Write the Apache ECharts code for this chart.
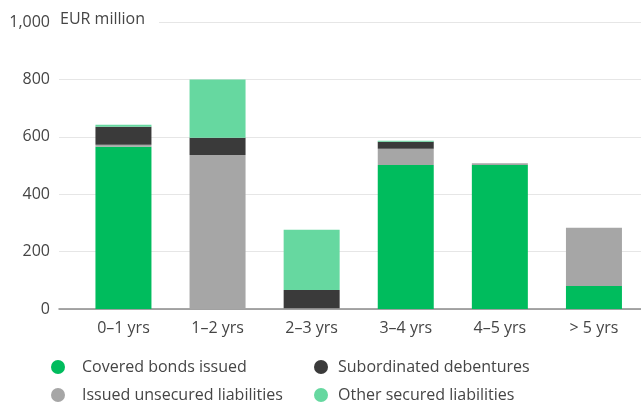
<!DOCTYPE html>
<html><head><meta charset="utf-8">
<script src="https://cdn.jsdelivr.net/npm/echarts@6/dist/echarts.min.js"></script>
<style>html,body{margin:0;padding:0;background:#fff}#c{width:641px;height:403px}</style>
</head><body><div id="c"></div>
<script>
const categories = ['0\u20131 yrs', '1\u20132 yrs', '2\u20133 yrs', '3\u20134 yrs', '4\u20135 yrs', '> 5 yrs'];
const covered = [565, 0, 0, 502, 502, 80];
const unsecured = [7, 537, 3, 56, 6, 203];
const subordinated = [63, 60, 63, 25, 0, 0];
const otherSecured = [7, 203, 210, 3, 0, 0];
const yTicks = [0, 200, 400, 600, 800, 1000];
const unitLabel = 'EUR million';

const FONT = 'Open Sans';
const FS = 16;
const TXT = '#454545';
const chart = echarts.init(document.getElementById('c'));
const fmt = v => v >= 1000 ? v.toLocaleString('en-US') : String(v);
const mk = (name, data, color) => ({
  name, type: 'bar', stack: 's', data, xAxisIndex: 1, yAxisIndex: 1,
  barWidth: 56, itemStyle: { color }, emphasis: { disabled: true }
});
const lg = (name, left, top, gap) => ({
  left, top, itemWidth: 14, itemHeight: 14, icon: 'circle', padding: 0,
  data: [name],
  textStyle: { color: TXT, fontSize: FS, fontFamily: FONT, padding: [0, 0, 0, gap], lineHeight: 18 },
  selectedMode: false
});
chart.setOption({
  animation: false,
  textStyle: { fontFamily: FONT },
  grid: [
    { left: 59, right: 0, top: 22, bottom: 94 },
    { left: 76.4, right: -6.6, top: 22, bottom: 94 }
  ],
  xAxis: [
    { gridIndex: 0, type: 'value', min: 0, max: 1, axisLabel: { show: false }, axisTick: { show: false }, splitLine: { show: false },
      axisLine: { show: true, lineStyle: { color: '#8a8a8a', width: 1.5 } } },
    { gridIndex: 1, type: 'category', data: categories, axisLine: { show: false }, axisTick: { show: false },
      axisLabel: { color: TXT, fontSize: FS, margin: 11, fontFamily: FONT } }
  ],
  yAxis: [
    { gridIndex: 0, type: 'value', min: yTicks[0], max: yTicks[yTicks.length - 1], interval: 200,
      axisLine: { show: false }, axisTick: { show: false },
      axisLabel: { color: TXT, fontSize: FS, margin: 9, fontFamily: FONT, formatter: fmt },
      splitLine: { lineStyle: { color: '#e6e6e6', width: 1 } } },
    { gridIndex: 1, type: 'value', min: yTicks[0], max: yTicks[yTicks.length - 1], interval: 200, show: false, splitLine: { show: false } }
  ],
  legend: [
    lg('Covered bonds issued', 51, 358, 12),
    lg('Subordinated debentures', 314, 358, 5),
    lg('Issued unsecured liabilities', 51, 386, 12),
    lg('Other secured liabilities', 314, 386, 5)
  ],
  graphic: [
    { type: 'rect', left: 56, top: 17, z: 100, shape: { width: 103, height: 10 }, style: { fill: '#fff' } },
    { type: 'text', left: 60, top: 11, z: 101, style: { text: unitLabel, fill: TXT, font: FS + 'px "Open Sans"' } }
  ],
  series: [
    mk('Covered bonds issued', covered, '#00bc5d'),
    mk('Issued unsecured liabilities', unsecured, '#a6a6a6'),
    mk('Subordinated debentures', subordinated, '#3a3a3a'),
    mk('Other secured liabilities', otherSecured, '#66d8a0')
  ]
});
</script></body></html>
